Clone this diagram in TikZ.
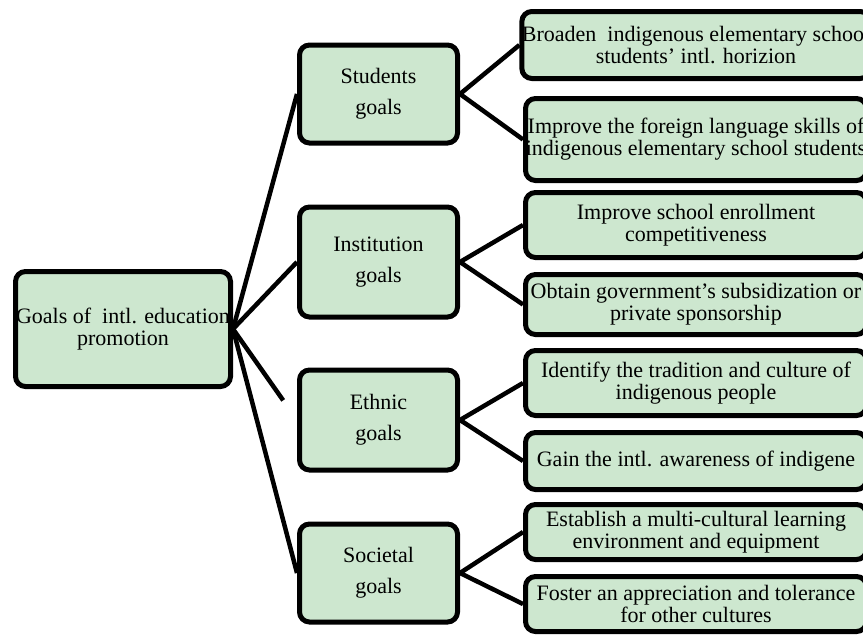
\documentclass[tikz,border=0pt]{standalone}
\usepackage{fontspec}
\setmainfont{Liberation Serif}
\definecolor{boxgreen}{RGB}{205,231,207}
\begin{document}
\begin{tikzpicture}[x=1pt,y=-1pt,
  goalbox/.style={draw,line width=5pt,rounded corners=10pt,fill=boxgreen,inner sep=0pt,align=center,font=\fontsize{22}{22}\selectfont},
  midbox/.style={goalbox,minimum width=158pt,font=\fontsize{22}{31}\selectfont},
  leaf/.style={goalbox,minimum width=341pt},
  link/.style={line width=4.5pt}]
\useasboundingbox (0,0) rectangle (863,635);
\clip (0,0) rectangle (863,635);
\node[goalbox,minimum width=215pt,minimum height=115pt] (root) at (123,329) {Goals of\ \ intl. education\\promotion};
\node[midbox,minimum height=98pt] (stud) at (378.5,94) {Students\\goals};
\node[midbox,minimum height=110pt] (inst) at (378.5,262) {Institution\\goals};
\node[midbox,minimum height=100pt] (ethn) at (378.5,420) {Ethnic\\goals};
\node[midbox,minimum height=98pt] (soci) at (378.5,573) {Societal\\goals};
\node[leaf,minimum height=67pt] (broaden) at (696,45) {Broaden\ \ indigenous elementary school\\students’ intl. horizion};
\node[leaf,minimum height=82pt] (language) at (696,139.5) {Improve the foreign language skills of\\indigenous elementary school students};
\node[leaf,minimum height=65pt] (enroll) at (696,225) {Improve school enrollment\\competitiveness};
\node[leaf,minimum height=60pt] (subsidy) at (696,304.5) {Obtain government’s subsidization or\\private sponsorship};
\node[leaf,minimum height=65pt] (culture) at (696,383) {Identify the tradition and culture of\\indigenous people};
\node[leaf,minimum height=57pt] (aware) at (696,461) {Gain the intl. awareness of indigene};
\node[leaf,minimum height=55pt] (multi) at (696,532) {Establish a multi-cultural learning\\environment and equipment};
\node[leaf,minimum height=55pt] (foster) at (696,604) {Foster an appreciation and tolerance\\for other cultures};
\draw[link] (root.east) -- (stud.west);
\draw[link] (root.east) -- (inst.west);
\draw[link,shorten >=24pt] (root.east) -- (ethn.west);
\draw[link] (root.east) -- (soci.west);
\draw[link] (stud.east) -- (broaden.west);
\draw[link] (stud.east) -- (language.west);
\draw[link] (inst.east) -- (enroll.west);
\draw[link] (inst.east) -- (subsidy.west);
\draw[link] (ethn.east) -- (culture.west);
\draw[link] (ethn.east) -- (aware.west);
\draw[link] (soci.east) -- (multi.west);
\draw[link] (soci.east) -- (foster.west);
\end{tikzpicture}
\end{document}
